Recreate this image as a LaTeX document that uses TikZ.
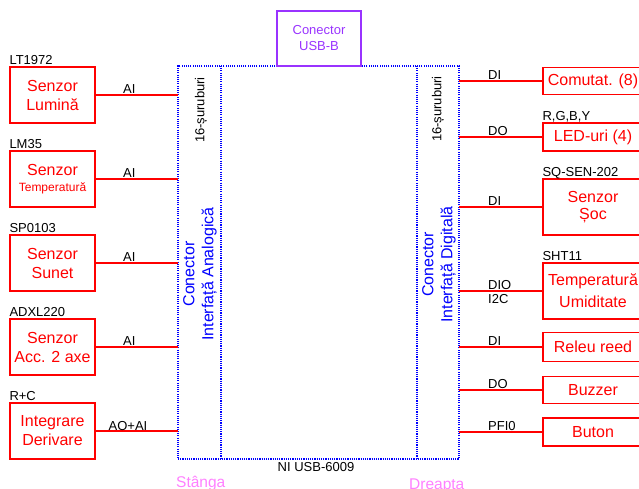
\documentclass[tikz,border=0pt]{standalone}
\usepackage{fontspec}
\setmainfont{Liberation Sans}
\definecolor{lred}{RGB}{255,0,0}
\definecolor{usbp}{RGB}{153,51,255}
\definecolor{sidep}{RGB}{255,128,255}
\definecolor{dblue}{RGB}{0,0,255}
\begin{document}
\begin{tikzpicture}[x=1pt,y=-1pt,
  box/.style={draw=lred, line width=1.4pt, text=lred, inner sep=0pt, align=center,
    font=\fontsize{16}{19}\selectfont},
  lbox/.style={box, minimum width=85pt, minimum height=56pt},
  rbox/.style={box, minimum width=100pt, minimum height=28pt},
  rbig/.style={box, minimum width=100pt, minimum height=56pt},
  wire/.style={draw=lred, line width=1.6pt},
  sig/.style={font=\fontsize{13}{15}\selectfont, inner sep=0pt},
  dotline/.style={draw=dblue, line width=1.1pt, dash pattern=on 1.1pt off 1.1pt},
  blab/.style={text=dblue, align=center, rotate=90, inner sep=0pt, font=\fontsize{16}{19}\selectfont},
  side/.style={text=sidep, inner sep=0pt, font=\fontsize{15.5}{17}\selectfont},
]
\useasboundingbox (0,0) rectangle (639,489);
\clip (0,0) rectangle (639,489);

% main board
\node[dotline, inner sep=0pt, outer sep=0pt, minimum width=281pt, minimum height=393pt] (ni) at (318.5,262.5) {};
\draw[dotline] ([xshift=43pt]ni.north west) -- ([xshift=43pt]ni.south west);
\draw[dotline] ([xshift=-42pt]ni.north east) -- ([xshift=-42pt]ni.south east);

% USB connector
\node[draw=usbp, line width=1.2pt, text=usbp, inner sep=0pt, align=center,
  minimum width=84pt, minimum height=55pt, font=\fontsize{13}{16}\selectfont] (usb) at (319,38.5) {Conector\\USB-B};

% strip labels
\node[sig, rotate=90] (sl) at (201,110) {16-șuruburi};
\node[sig, rotate=90] (sr) at (438,109) {16-șuruburi};
\node[blab] (ca) at (200,274) {Conector\\Interfață Analogică};
\node[blab] (cd) at (439,264.5) {Conector\\Interfață Digitală};

\node[sig, anchor=base] (nil) at (316,471.5) {NI USB-6009};
\node[side, anchor=base west] (st) at (176,487) {Stânga};
\node[side, anchor=base west] (dr) at (409,489.5) {Dreapta};

% left boxes
\node[lbox] (b1) at (52.5,95) {Senzor\\Lumină};
\node[lbox] (b2) at (52.5,179) {Senzor\\[-3pt]{\fontsize{12}{13}\selectfont Temperatură}};
\node[lbox] (b3) at (52.5,263) {Senzor\\Sunet};
\node[lbox] (b4) at (52.5,347) {Senzor\\Acc. 2 axe};
\node[lbox] (b5) at (52.5,431) {Integrare\\Derivare};

\node[sig, anchor=base west] (p1) at ([yshift=2pt]b1.north west) {LT1972};
\node[sig, anchor=base west] (p2) at ([yshift=2pt]b2.north west) {LM35};
\node[sig, anchor=base west] (p3) at ([yshift=2pt]b3.north west) {SP0103};
\node[sig, anchor=base west] (p4) at ([yshift=2pt]b4.north west) {ADXL220};
\node[sig, anchor=base west] (p5) at ([yshift=2pt]b5.north west) {R+C};

\foreach \b in {b1,b2,b3,b4,b5}{
  \draw[wire] (\b.east) -- (\b.east -| ni.west);
}
\node[sig, anchor=base west] (s1) at (123,93.5) {AI};
\node[sig, anchor=base west] (s2) at (123,177.5) {AI};
\node[sig, anchor=base west] (s3) at (123,261.5) {AI};
\node[sig, anchor=base west] (s4) at (123,345.5) {AI};
\node[sig, anchor=base west] (s5) at (108.5,430.5) {AO+AI};

% right boxes
\node[rbox, minimum height=27pt] (r1) at (593,81) {Comutat. (8)};
\node[rbox] (r2) at (593,137) {LED-uri (4)};
\node[rbig] (r3) at (593,207) {Senzor\\[-2pt]Șoc};
\node[rbig] (r4) at (593,291) {Temperatură\\[3pt]Umiditate};
\node[rbox, minimum height=29pt] (r5) at (593,347) {Releu reed};
\node[rbox, minimum height=27pt] (r6) at (593,390) {Buzzer};
\node[rbox] (r7) at (593,432) {Buton};

\node[sig, anchor=base west] (q2) at ([yshift=2pt]r2.north west) {R,G,B,Y};
\node[sig, anchor=base west] (q3) at ([yshift=2pt]r3.north west) {SQ-SEN-202};
\node[sig, anchor=base west] (q4) at ([yshift=2pt]r4.north west) {SHT11};

\foreach \r in {r1,r2,r3,r4,r5,r6,r7}{
  \draw[wire] (\r.west -| ni.east) -- (\r.west);
}
\node[sig, anchor=base west] (t1) at (488,79.5) {DI};
\node[sig, anchor=base west] (t2) at (488,135.5) {DO};
\node[sig, anchor=base west] (t3) at (488,205.5) {DI};
\node[sig, anchor=base west] (t4) at (488,289) {DIO};
\node[sig, anchor=base west] (t4b) at (488,303.5) {I2C};
\node[sig, anchor=base west] (t5) at (488,345.5) {DI};
\node[sig, anchor=base west] (t6) at (488,388.5) {DO};
\node[sig, anchor=base west] (t7) at (488,430.5) {PFI0};
\end{tikzpicture}
\end{document}
